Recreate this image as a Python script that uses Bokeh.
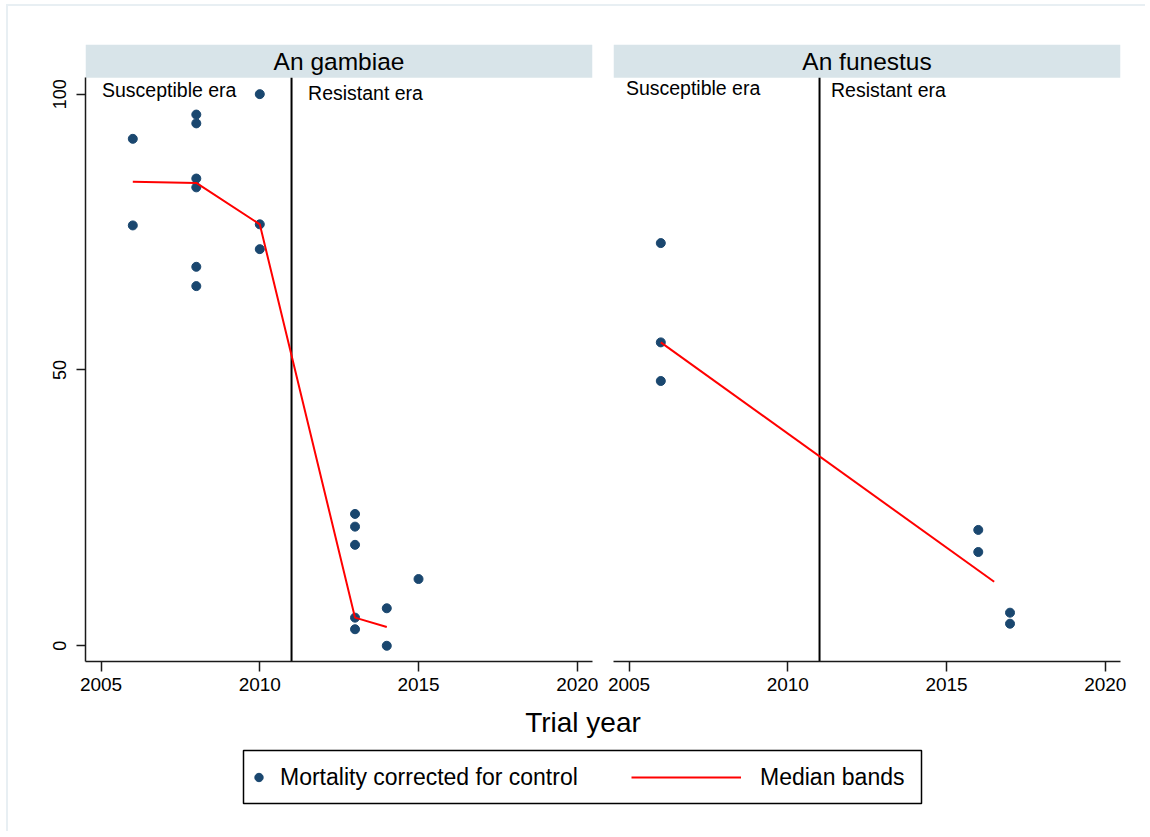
from bokeh.plotting import figure
from bokeh.layouts import column, row
from bokeh.models import (Range1d, FixedTicker, BoxAnnotation, Label, Legend,
                          LegendItem)
from bokeh.embed import file_html
from bokeh.resources import INLINE

# ---------------- data ----------------
gam_year = [2006, 2006, 2008, 2008, 2008, 2008, 2008, 2008, 2010, 2010, 2010,
            2013, 2013, 2013, 2013, 2013, 2014, 2014, 2015]
gam_mort = [91.9, 76.2, 96.3, 94.7, 84.7, 83.1, 68.7, 65.2, 100.0, 76.4, 71.9,
            23.9, 21.6, 18.3, 5.1, 3.0, 6.8, 0.0, 12.1]
gam_med_year = [2006, 2008, 2010, 2013, 2014]
gam_med_mort = [84.1, 83.9, 76.4, 5.1, 3.4]

fun_year = [2006, 2006, 2006, 2016, 2016, 2017, 2017]
fun_mort = [73.0, 55.0, 48.0, 21.0, 17.0, 6.0, 4.0]
fun_med_year = [2006, 2016.5]
fun_med_mort = [55.0, 11.6]

panel_titles = ["An gambiae", "An funestus"]
era_labels = ["Susceptible era", "Resistant era"]
era_year = 2011
x_ticks = [2005, 2010, 2015, 2020]
y_ticks = [0, 50, 100]
legend_labels = ["Mortality corrected for control", "Median bands"]
x_title = "Trial year"

# annotation positions (data units of each panel)
gam_era_x = [2005.03, 2011.52]
gam_era_y = [100.8, 100.2]
fun_era_x = [2004.9, 2011.36]
fun_era_y = [101.2, 100.8]

# ---------------- style ----------------
FONT = "Liberation Sans"
NAVY = "#1A476F"
STRIP = "#D8E4E9"
AX = "#1a1a1a"
X0, X1 = 2004.51, 2020.48
Y0, YTOP = -2.85, 102.95
YSTRIP = 109.0


def make_panel(title, xs, ys, mx, my, ex, ey, left, right, width, show_y):
    p = figure(width=width, height=694, x_range=Range1d(X0, X1),
               y_range=Range1d(Y0, YSTRIP), output_backend="svg",
               toolbar_location=None, y_axis_type="linear" if show_y else None,
               min_border_left=left, min_border_right=right,
               min_border_top=38, min_border_bottom=39)
    p.outline_line_color = None
    p.xgrid.visible = False
    p.ygrid.visible = False
    p.background_fill_color = "white"
    p.border_fill_color = "white"

    # strip
    p.add_layout(BoxAnnotation(bottom=YTOP, fill_color=STRIP, fill_alpha=1,
                               line_color=None, level="underlay"))
    p.add_layout(Label(x=(X0 + X1) / 2, y=(YTOP + YSTRIP) / 2, text=title,
                       text_align="center", text_baseline="middle",
                       text_font=FONT, text_font_size="24.5px",
                       text_color="black"))

    # x axis
    xa = p.xaxis[0]
    xa.ticker = FixedTicker(ticks=x_ticks)
    xa.minor_tick_line_color = None
    xa.major_tick_in = 0
    xa.major_tick_out = 10
    xa.axis_line_color = AX
    xa.axis_line_width = 1.5
    xa.major_tick_line_color = AX
    xa.major_tick_line_width = 1.5
    xa.major_label_text_font = FONT
    xa.major_label_text_font_size = "19px"
    xa.major_label_text_color = "black"
    xa.major_label_standoff = 6

    if show_y:
        ya = p.yaxis[0]
        ya.ticker = FixedTicker(ticks=y_ticks)
        ya.bounds = (Y0, YTOP)
        ya.minor_tick_line_color = None
        ya.major_tick_in = 0
        ya.major_tick_out = 9
        ya.axis_line_color = AX
        ya.axis_line_width = 1.5
        ya.major_tick_line_color = AX
        ya.major_tick_line_width = 1.5
        ya.major_label_orientation = "vertical"
        ya.major_label_text_font = FONT
        ya.major_label_text_font_size = "18px"
        ya.major_label_text_color = "black"
        ya.major_label_standoff = 10

    # era divider
    p.segment(x0=[era_year], y0=[Y0], x1=[era_year], y1=[YTOP],
              line_color="black", line_width=2)
    for lbl, lx, ly in zip(era_labels, ex, ey):
        p.add_layout(Label(x=lx, y=ly, text=lbl, text_align="left",
                           text_baseline="middle", text_font=FONT,
                           text_font_size="19.5px", text_color="black"))

    p.scatter(xs, ys, size=9, fill_color=NAVY, line_color=NAVY)
    p.line(mx, my, line_color="red", line_width=2)
    return p


pL = make_panel(panel_titles[0], gam_year, gam_mort, gam_med_year,
                gam_med_mort, gam_era_x, gam_era_y, 77, 8, 592, True)
pR = make_panel(panel_titles[1], fun_year, fun_mort, fun_med_year,
                fun_med_mort, fun_era_x, fun_era_y, 13, 25, 545, False)

# ---------------- bottom: axis title + legend ----------------
BW, BH = 1137, 131
pB = figure(width=BW, height=BH, x_range=Range1d(0, BW), y_range=Range1d(0, BH),
            output_backend="svg", toolbar_location=None,
            x_axis_type=None, y_axis_type=None,
            min_border_left=0, min_border_right=0, min_border_top=0,
            min_border_bottom=0)
pB.outline_line_color = None
pB.xgrid.visible = False
pB.ygrid.visible = False

pB.add_layout(Label(x=574.5, y=109, text=x_title, text_align="center",
                    text_baseline="middle", text_font=FONT,
                    text_font_size="28px", text_color="black"))

pB.add_layout(BoxAnnotation(left=235, right=913, bottom=28, top=81,
                            fill_color="white", fill_alpha=1,
                            line_color="black", line_alpha=1, line_width=1.5))

# legend key renderers (hidden in this strip; they only supply legend glyphs)
r1 = pB.scatter(x=gam_year, y=gam_mort, size=9, fill_color=NAVY,
                line_color=NAVY, visible=False)
r2 = pB.line(x=gam_med_year, y=gam_med_mort, line_color="red", line_width=2,
             visible=False)

common = dict(orientation="horizontal", glyph_height=28, label_height=28,
              padding=0, margin=0, spacing=0, border_line_color=None,
              background_fill_alpha=0, inactive_fill_alpha=0,
              label_text_font=FONT,
              label_text_font_size="23px", label_text_color="black")
leg1 = Legend(items=[LegendItem(label=legend_labels[0], renderers=[r1])],
              location=(240, 40), glyph_width=21, label_standoff=11,
              **common)
leg2 = Legend(items=[LegendItem(label=legend_labels[1], renderers=[r2])],
              location=(623, 40), glyph_width=110, label_standoff=19, **common)
pB.add_layout(leg1)
pB.add_layout(leg2)

layout = column(row(pL, pR), pB, margin=(4, 0, 0, 6),
                styles={"border-top": "2px solid #E8EFF3",
                        "border-left": "2px solid #E8EFF3"})

open("out.html", "w").write(file_html(layout, INLINE))
